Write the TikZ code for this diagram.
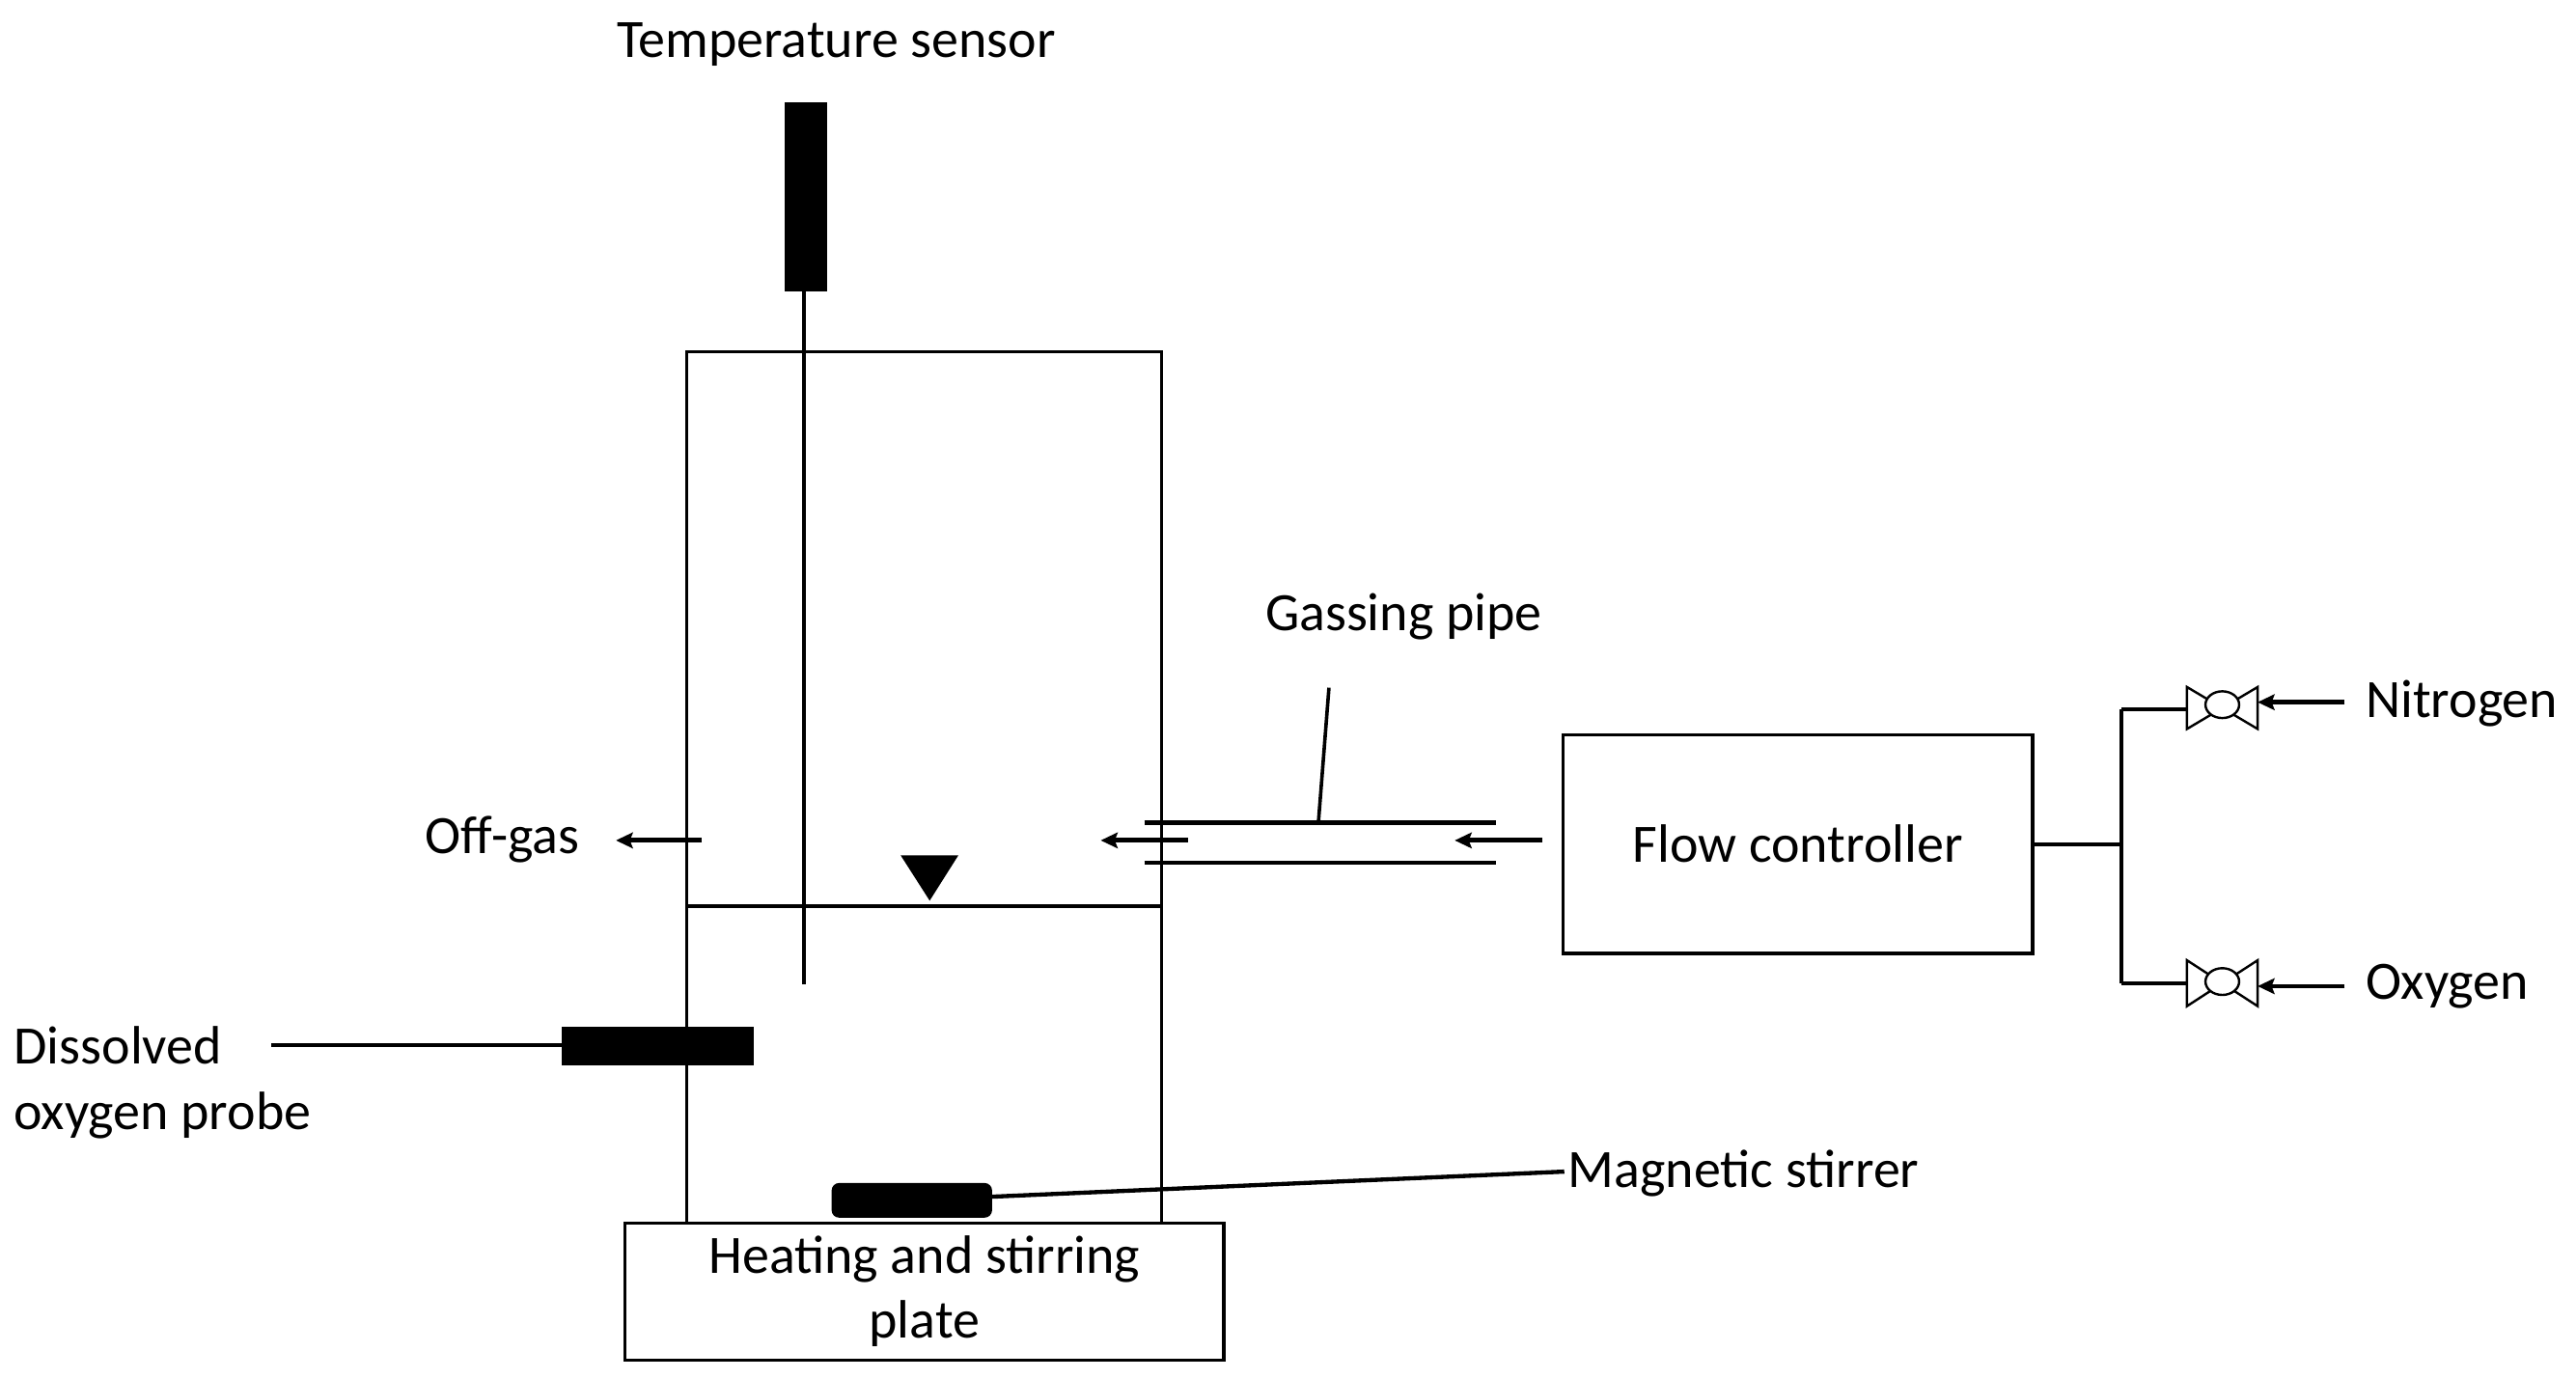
\documentclass[tikz,border=0pt]{standalone}
\usepackage{fontspec}
\setmainfont{Carlito}
\usetikzlibrary{arrows.meta}
\begin{document}
\begin{tikzpicture}[x=0.01cm,y=-0.01cm,
  lbl/.style={inner sep=0pt, anchor=base west, font=\fontsize{9.3}{11.1}\selectfont},
  wall/.style={line width=0.5pt},
  pipe/.style={line width=0.72pt},
  flow/.style={line width=0.8pt,-{Stealth[length=2.9pt,width=2.7pt,inset=0.5pt]}},
  blk/.style={fill=black,draw=none},
  box/.style={draw,line width=0.55pt,inner sep=0pt,font=\fontsize{9.3}{11.1}\selectfont,align=center},
  valvebody/.style={draw,line width=0.4pt}]
\useasboundingbox (0,0) rectangle (1560,834.65);

% ---- coordinates ----
\coordinate (vtl) at (416,213);
\coordinate (vtr) at (703.5,213);
\coordinate (vbl) at (416,741);
\coordinate (vbr) at (703.5,741);

% ---- plate ----
\node[box, minimum width=3.624cm, minimum height=0.826cm] (plate) at (559.8,782.3) {Heating and stirring\\plate};

% ---- vessel ----
\draw[wall] (vbl) -- (vtl) -- (vtr) -- (vbr);
\draw[line width=0.65pt] (416,549) -- (703.5,549);
\fill (545.4,518) -- (580.4,518) -- (563,545.5) -- cycle;

% ---- temperature sensor ----
\node[lbl] (tlabel) at (373,35) {Temperature sensor};
\fill (475,62) rectangle (501,176.5);
\draw[line width=0.65pt] (487,176.5) -- (487,596);

% ---- dissolved oxygen probe ----
\node[lbl] (dlabel1) at (7.8,644.3) {Dissolved};
\node[lbl] (dlabel2) at (7.8,684.3) {oxygen probe};
\coordinate (doend) at (164.4,633);
\fill (340,622) rectangle (456.5,645);
\draw[pipe] (doend) -- (340,633);

% ---- magnetic stirrer ----
\fill[rounded corners=1.3pt] (503.6,716.5) rectangle (600.8,737.5);
\node[lbl] (mlabel) at (949,719) {Magnetic stirrer};
\draw[pipe] (600.8,724.8) -- (947.3,709.6);

% ---- off-gas ----
\node[lbl] (olabel) at (257,516.7) {Off-gas};
\coordinate (og1) at (425,509);
\coordinate (og2) at (373,509);
\draw[flow] (og1) -- (og2);

% ---- gassing pipe ----
\node[lbl] (glabel) at (765.6,381.7) {Gassing pipe};
\draw[pipe] (693,498.3) -- (906,498.3);
\draw[pipe] (693,522.5) -- (906,522.5);
\draw[flow] (719.3,509) -- (666.6,509);
\draw[flow] (934,509) -- (881,509);
\draw[line width=0.6pt] (804.8,416.5) -- (798.4,498.3);

% ---- flow controller ----
\node[box, minimum width=2.84cm, minimum height=1.325cm] (fc) at (1088.8,511.25) {Flow controller};
\coordinate (jm) at (1284.8,511.25);
\coordinate (jn) at (1284.8,429.6);
\coordinate (jo) at (1284.8,595.7);
\draw[pipe] (fc.east) -- (jm);
\draw[pipe] (jn) -- (jo);
\draw[pipe] (jn) -- (1324.4,429.6);
\draw[pipe] (jo) -- (1324.4,595.7);

% ---- valves ----
\begin{scope}[shift={(1345.8,428.8)}]
  \draw[valvebody] (-21.4,-12.7) -- (21.4,12.7) -- (21.4,-12.7) -- (-21.4,12.7) -- cycle;
  \filldraw[valvebody,fill=white] (0,-2) ellipse [x radius=10.2, y radius=8.1];
\end{scope}
\begin{scope}[shift={(1345.8,595.5)}]
  \draw[valvebody] (-21.4,-13.9) -- (21.4,13.9) -- (21.4,-13.9) -- (-21.4,13.9) -- cycle;
  \filldraw[valvebody,fill=white] (0,-1) ellipse [x radius=10.2, y radius=8.1];
\end{scope}

% ---- gas sources ----
\node[lbl] (nlabel) at (1432,434.8) {Nitrogen};
\node[lbl] (xlabel) at (1432,605.5) {Oxygen};
\draw[flow] (1420,425.3) -- (1367.2,425.3);
\draw[flow] (1420,597.3) -- (1367.2,597.3);
\end{tikzpicture}
\end{document}
